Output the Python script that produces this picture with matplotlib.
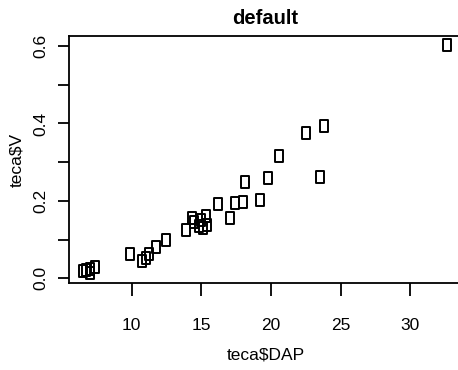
import matplotlib
matplotlib.use("Agg")
from matplotlib import pyplot as plt
from matplotlib.path import Path
import numpy as np

# teca data
dap = [6.5, 6.75, 7.0, 7.0, 7.4,
       9.86, 10.77, 11.05, 11.24, 11.72, 12.49,
       13.9, 14.3, 14.5, 14.8, 15.0, 15.1, 15.3, 15.4,
       16.19, 17.08, 17.39, 17.98, 18.1, 19.18, 19.8,
       20.6, 22.5, 23.5, 23.8, 32.6]
vol = [0.019, 0.021, 0.023, 0.015, 0.030,
       0.062, 0.045, 0.052, 0.062, 0.082, 0.099,
       0.125, 0.155, 0.145, 0.135, 0.150, 0.130, 0.160, 0.138,
       0.191, 0.156, 0.195, 0.198, 0.249, 0.202, 0.260,
       0.315, 0.376, 0.261, 0.394, 0.602]

xticks = [10, 15, 20, 25, 30]
yticks = [0.0, 0.1, 0.2, 0.3, 0.4, 0.5, 0.6]
ytick_labels = ["0.0", "", "0.2", "", "0.4", "", "0.6"]

plt.rcParams['font.family'] = ['Liberation Sans', 'DejaVu Sans']

fig = plt.figure(figsize=(4.58, 3.70), dpi=100)
ax = fig.add_axes([69/458, 87/370, 393/458, 247/370])

# slightly tall open square, like the stretched R symbol
box = Path([(-0.75, -1), (0.75, -1), (0.75, 1), (-0.75, 1), (-0.75, -1)],
           [Path.MOVETO, Path.LINETO, Path.LINETO, Path.LINETO, Path.CLOSEPOLY])
ax.plot(dap, vol, linestyle='none', marker=box, markersize=8,
        markerfacecolor='none', markeredgecolor='black', markeredgewidth=1.4)

ax.set_xlim(5.5, 33.7)
ax.set_ylim(-0.012, 0.626)
ax.set_xticks(xticks)
ax.set_xticklabels([str(t) for t in xticks])
ax.set_yticks(yticks)
ax.set_yticklabels(ytick_labels, rotation=90, va='center')

for s in ax.spines.values():
    s.set_linewidth(1.3)
ax.spines['right'].set_visible(False)
ax.tick_params(axis='x', length=9.5, width=1.3, pad=16, labelsize=12.5)
ax.tick_params(axis='y', length=8, width=1.3, pad=7, labelsize=12.5)

ax.set_xlabel("teca$DAP", fontsize=12.5, va='center')
ax.xaxis.set_label_coords(0.5, -0.291)
ax.set_ylabel("teca$V", fontsize=12.5, va='center')
ax.yaxis.set_label_coords(-0.132, 0.5)
ax.set_title("default", fontsize=14.5, fontweight='bold', pad=9)

plt.savefig("out.png", dpi=100)
